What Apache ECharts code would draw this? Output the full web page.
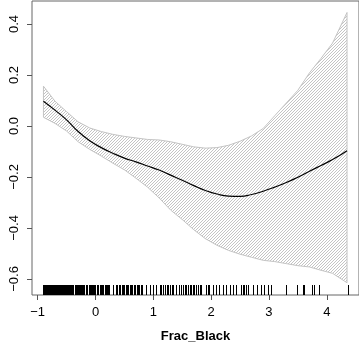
<!DOCTYPE html>
<html><head><meta charset="utf-8">
<script src="https://cdn.jsdelivr.net/npm/echarts@6/dist/echarts.min.js"></script>
<style>html,body{margin:0;padding:0;background:#fff}#c{width:359px;height:349px}</style>
</head><body><div id="c"></div>
<script>
const xGrid = [-0.9,-0.7,-0.5,-0.3,-0.1,0.1,0.3,0.5,0.7,0.9,1.1,1.3,1.5,1.7,1.9,2.1,2.3,2.5,2.7,2.9,3.1,3.3,3.5,3.7,3.9,4.1,4.35];
const fitValues = [0.097,0.062,0.024,-0.022,-0.058,-0.085,-0.107,-0.126,-0.141,-0.157,-0.173,-0.193,-0.213,-0.234,-0.253,-0.267,-0.275,-0.276,-0.269,-0.256,-0.240,-0.222,-0.201,-0.178,-0.155,-0.132,-0.097];
const upperValues = [0.156,0.097,0.056,0.016,-0.008,-0.022,-0.033,-0.041,-0.047,-0.053,-0.055,-0.062,-0.072,-0.082,-0.087,-0.085,-0.076,-0.060,-0.039,-0.010,0.040,0.090,0.140,0.208,0.265,0.325,0.445];
const lowerValues = [0.034,0.010,-0.020,-0.062,-0.092,-0.118,-0.146,-0.172,-0.205,-0.240,-0.282,-0.330,-0.367,-0.407,-0.442,-0.468,-0.488,-0.503,-0.515,-0.527,-0.532,-0.540,-0.548,-0.553,-0.566,-0.578,-0.615];
const rugValues = [-0.91,-0.895,-0.88,-0.865,-0.85,-0.835,-0.82,-0.805,-0.79,-0.775,-0.76,-0.745,-0.73,-0.715,-0.70,-0.685,-0.67,-0.655,-0.64,-0.625,-0.61,-0.595,-0.58,-0.565,-0.55,-0.535,-0.52,-0.505,-0.49,-0.475,-0.46,-0.445,-0.43,-0.415,-0.40,-0.385,
-0.35,-0.335,-0.32,-0.305,-0.29,-0.26,-0.245,-0.23,-0.215,-0.20,-0.16,-0.145,-0.11,-0.095,-0.08,-0.065,-0.05,-0.035,-0.02,
0.00,0.02,0.04,0.07,0.09,0.11,0.13,0.16,0.18,0.20,0.22,0.24,0.30,0.36,0.38,0.40,0.43,0.45,0.47,0.50,0.52,0.55,0.57,0.59,0.62,0.64,0.66,0.69,0.71,0.73,0.76,0.79,0.81,0.88,0.94,0.99,1.05,
1.11,1.14,1.17,1.20,1.23,1.26,1.29,1.32,1.34,1.40,1.45,1.48,1.51,1.54,1.57,1.60,1.63,1.66,1.68,1.71,1.74,1.77,1.80,1.83,1.91,1.94,1.97,2.03,2.09,2.14,2.20,2.26,2.32,2.37,2.43,
2.52,2.55,2.57,2.60,2.63,2.72,2.80,2.86,2.92,2.98,3.03,3.29,3.49,3.58,3.61,3.75,3.78,3.87,4.36];
const xTicks = [-1,0,1,2,3,4];
const yTicks = [-0.6,-0.4,-0.2,0.0,0.2,0.4];
const xTitle = 'Frac_Black';

const X_MIN = -1.098, X_MAX = 4.557, Y_MIN = -0.663, Y_MAX = 0.490;
const FONT = '"Liberation Sans", Arial, Helvetica, sans-serif';

function fmtY(v){ const s = Math.abs(v).toFixed(1); return (v < -1e-9 ? '\u2212' : '') + s; }
function fmtX(v){ const s = String(Math.abs(Math.round(v))); return (v < -1e-9 ? '\u2212' : '') + s; }

const pc = document.createElement('canvas'); pc.width = 12; pc.height = 12;
const g = pc.getContext('2d');
g.strokeStyle = '#bdbdbd'; g.lineWidth = 0.9;
g.beginPath();
for (let c = -3; c <= 27; c += 3) { g.moveTo(c + 2, -2); g.lineTo(c - 14, 14); }
g.stroke();

const chart = echarts.init(document.getElementById('c'), null, {renderer:'canvas'});
chart.setOption({
  animation: false,
  backgroundColor: '#fff',
  grid: {left: 32, right: -1, top: 1, bottom: 54, show: true, borderColor: '#666', borderWidth: 1, backgroundColor: 'transparent'},
  xAxis: {
    type: 'value', min: X_MIN, max: X_MAX,
    axisLine: {show: false, onZero: false},
    splitLine: {show: false},
    axisTick: {show: true, customValues: xTicks, length: 5, inside: false, lineStyle: {color: '#555', width: 1}},
    axisLabel: {customValues: xTicks, formatter: fmtX, margin: 11, fontSize: 13, color: '#000', fontFamily: FONT},
    name: xTitle, nameLocation: 'middle', nameGap: 35,
    nameTextStyle: {fontSize: 13, fontWeight: 'bold', color: '#000', fontFamily: FONT}
  },
  yAxis: {
    type: 'value', min: Y_MIN, max: Y_MAX,
    axisLine: {show: false, onZero: false},
    splitLine: {show: false},
    axisTick: {show: true, customValues: yTicks, length: 5, inside: false, lineStyle: {color: '#555', width: 1}},
    axisLabel: {customValues: yTicks, formatter: fmtY, rotate: 90, margin: 11, fontSize: 13, color: '#000', fontFamily: FONT}
  },
  series: [
    {
      type: 'custom', name: 'band', silent: true, clip: true,
      data: [[xGrid[0], upperValues[0]]],
      renderItem: function(params, api){
        const pts = [];
        for (let i = 0; i < xGrid.length; i++) pts.push(api.coord([xGrid[i], upperValues[i]]));
        for (let i = xGrid.length - 1; i >= 0; i--) pts.push(api.coord([xGrid[i], lowerValues[i]]));
        return {type: 'polygon', shape: {points: pts}, style: {fill: {image: pc, repeat: 'repeat'}, stroke: '#c4c4c4', lineWidth: 1}};
      },
      z: 1
    },
    {
      type: 'line', name: 'fit', data: xGrid.map((x, i) => [x, fitValues[i]]),
      smooth: 0.5, symbol: 'none', lineStyle: {color: '#000', width: 1.2}, z: 3
    },
    {
      type: 'custom', name: 'rug', silent: true,
      data: rugValues.map(v => [v, Y_MIN]),
      renderItem: function(params, api){
        const p = api.coord([api.value(0), Y_MIN]);
        const x = Math.round(p[0]) + 0.5;
        return {type: 'line', shape: {x1: x, y1: p[1], x2: x, y2: p[1] - 10}, style: {stroke: '#000', lineWidth: 1}};
      },
      z: 2
    }
  ]
});
</script></body></html>
